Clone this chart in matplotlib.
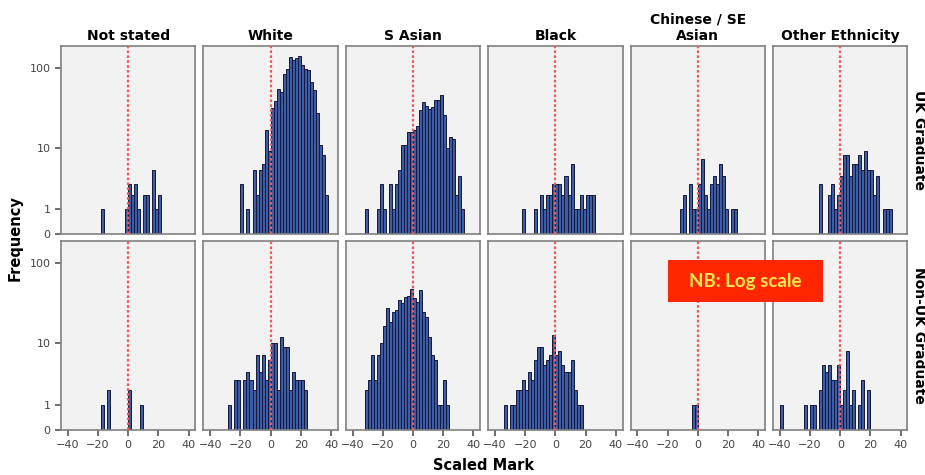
import matplotlib

matplotlib.use('Agg')

from matplotlib import pyplot as plt
from matplotlib.patches import Rectangle
import numpy as np

# 패널 라벨
ethnicities = ['Not stated', 'White', 'S Asian', 'Black', 'Chinese / SE\nAsian', 'Other Ethnicity']
graduate_groups = ['UK Graduate', 'Non-UK Graduate']
y_ticks = [0, 1, 10, 100]
x_ticks = [-40, -20, 0, 20, 40]

bin_width = 2

# UK graduates: 첫 번째 bin 왼쪽 경계와 bin 별 빈도
uk_not_stated_start = -18
uk_not_stated = [1, 0, 0, 0, 0, 0, 0, 0, 1, 3, 2, 3, 1, 0, 2, 2, 0, 5, 1, 2]
uk_white_start = -20
uk_white = [3, 0, 1, 0, 5, 2, 5, 6, 17, 9, 32, 39, 55, 51, 83, 97, 135, 125, 131, 141,
            107, 97, 93, 67, 53, 28, 11, 8, 2]
uk_sasian_start = -32
uk_sasian = [1, 0, 0, 0, 1, 3, 1, 0, 3, 1, 3, 5, 11, 11, 16, 16, 17, 19, 30, 38, 34, 31,
             33, 40, 40, 46, 26, 10, 14, 13, 2, 4, 1]
uk_black_start = -22
uk_black = [1, 0, 0, 0, 1, 0, 2, 1, 2, 2, 3, 3, 3, 2, 4, 2, 6, 1, 1, 2, 1, 2, 2, 2]
uk_chinese_start = -12
uk_chinese = [1, 2, 0, 3, 1, 1, 3, 7, 2, 1, 3, 4, 3, 6, 4, 1, 0, 1, 1]
uk_other_start = -14
uk_other = [3, 0, 0, 2, 3, 1, 2, 4, 8, 8, 4, 6, 6, 8, 5, 9, 5, 5, 2, 4, 0, 1, 1, 1]

# Non-UK graduates
nonuk_not_stated_start = -18
nonuk_not_stated = [1, 0, 2, 0, 0, 0, 0, 0, 0, 2, 0, 0, 0, 1]
nonuk_white_start = -28
nonuk_white = [1, 0, 3, 3, 0, 3, 4, 3, 2, 7, 4, 7, 3, 6, 10, 10, 2, 12, 9, 9, 2, 4, 3, 3,
               3, 2]
nonuk_sasian_start = -32
nonuk_sasian = [2, 3, 7, 3, 7, 10, 17, 28, 19, 25, 27, 36, 33, 39, 40, 48, 38, 34, 47, 25,
                22, 12, 7, 6, 1, 1, 3, 1]
nonuk_black_start = -34
nonuk_black = [1, 0, 1, 1, 2, 2, 3, 2, 4, 3, 6, 9, 9, 5, 6, 7, 13, 7, 8, 5, 4, 4, 6, 2, 1, 1]
nonuk_chinese_start = -4
nonuk_chinese = [1, 1]
nonuk_other_start = -40
nonuk_other = [1, 0, 0, 0, 0, 0, 0, 0, 1, 0, 1, 1, 0, 2, 5, 4, 5, 3, 3, 5, 1, 2, 8, 1, 2, 0,
               1, 3, 0, 2]

starts = [[uk_not_stated_start, uk_white_start, uk_sasian_start, uk_black_start,
           uk_chinese_start, uk_other_start],
          [nonuk_not_stated_start, nonuk_white_start, nonuk_sasian_start, nonuk_black_start,
           nonuk_chinese_start, nonuk_other_start]]
counts = [[uk_not_stated, uk_white, uk_sasian, uk_black, uk_chinese, uk_other],
          [nonuk_not_stated, nonuk_white, nonuk_sasian, nonuk_black, nonuk_chinese, nonuk_other]]


# log(1 + y) 축 변환
def forward(y):
    return np.log10(1 + np.clip(y, 0, None))


def inverse(y):
    return 10 ** y - 1


plt.rcParams['font.family'] = ['DejaVu Sans']

fig, axes = plt.subplots(2, 6, figsize=(9.25, 4.75), dpi=100, sharex=True, sharey=True)
fig.subplots_adjust(left=0.066, right=0.981, top=0.904, bottom=0.095, wspace=0.06, hspace=0.036)

for r in range(2):
    for c in range(6):
        ax = axes[r][c]
        ax.set_facecolor('#F2F2F2')
        vals = counts[r][c]
        lefts = starts[r][c] + bin_width * np.arange(len(vals))
        ax.bar(lefts, vals, width=bin_width, align='edge', color='#3D5CA6',
               edgecolor='#15183A', linewidth=0.7, zorder=2)
        ax.axvline(0, color='#F25A5A', linestyle=(0, (1.2, 1.0)), linewidth=1.6, zorder=3)
        ax.set_yscale('function', functions=(forward, inverse))
        ax.set_ylim(0, 186)
        ax.set_xlim(-44.5, 44.5)
        for s in ax.spines.values():
            s.set_color('#808080')
            s.set_linewidth(1.2)
        ax.set_yticks(y_ticks)
        ax.set_yticklabels([str(t) for t in y_ticks])
        ax.set_xticks(x_ticks)
        ax.set_xticklabels([str(t).replace('-', '\u2212') for t in x_ticks])
        ax.tick_params(axis='both', colors='#555555', labelsize=8, length=4, width=1.2,
                       labelcolor='#444444')
        ax.tick_params(axis='y', left=(c == 0), labelleft=(c == 0))
        ax.tick_params(axis='x', bottom=(r == 1), labelbottom=(r == 1))
        ax.minorticks_off()
        if r == 0:
            ax.set_title(ethnicities[c], fontsize=10, fontweight='bold', pad=4)
        if c == 5:
            ax.text(1.085, 0.5, graduate_groups[r], transform=ax.transAxes, rotation=-90,
                    ha='center', va='center', fontsize=10, fontweight='bold')

fig.text(15 / 925, 1 - 238 / 475, 'Frequency', rotation=90, ha='center', va='center',
         fontsize=10.5, fontweight='bold')
fig.text(484 / 925, 1 - 465 / 475, 'Scaled Mark', ha='center', va='center',
         fontsize=10.5, fontweight='bold')

# NB 상자
fig.patches.append(Rectangle((668 / 925, 1 - 302 / 475), 155 / 925, 42 / 475,
                             transform=fig.transFigure, facecolor='#FF2600',
                             edgecolor='none', zorder=10))
fig.text(745 / 925, 1 - 281 / 475, 'NB: Log scale', ha='center', va='center',
         fontsize=13.5, color='#FFE94A', family='Lato', fontweight='bold', zorder=11)

plt.savefig('out.png')
plt.close()
